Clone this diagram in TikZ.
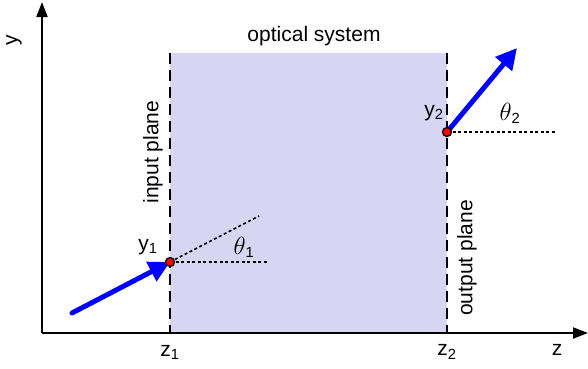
\documentclass[tikz,border=0pt]{standalone}
\usepackage{fontspec}
\setmainfont{Liberation Sans}
\usetikzlibrary{arrows.meta}
\definecolor{lav}{RGB}{216,213,242}
\definecolor{rayblue}{RGB}{0,0,255}
\newcommand{\bigtheta}{{\fontsize{27}{30}\selectfont$\theta$}}
\tikzset{
  axis/.style={line width=2pt,-{Triangle[length=15pt,width=11pt]}},
  planeline/.style={line width=2pt,dash pattern=on 11pt off 6pt},
  refline/.style={line width=1.6pt,dash pattern=on 3pt off 2.5pt},
  ray/.style={line width=5pt,rayblue,-{Triangle[length=21pt,width=21pt]}},
  pt/.style={circle,draw=black,fill=red,line width=1.3pt,inner sep=0pt,minimum size=9pt},
  lbl/.style={font=\fontsize{21}{25}\selectfont,inner sep=0pt}
}
\begin{document}
\begin{tikzpicture}[x=1pt,y=-1pt]
\useasboundingbox (0,0) rectangle (588,368);
\fill[lav] (170,53) rectangle (447,333);
\coordinate (O) at (42,333);
\coordinate (ytip) at (42,2);
\coordinate (ztip) at (588,333);
\draw[axis] (O) -- (ytip);
\draw[axis] (O) -- (ztip);
\coordinate (p1top) at (170,53);
\coordinate (p1bot) at (170,333);
\coordinate (p2top) at (447,53);
\coordinate (p2bot) at (447,333);
\draw[planeline] (p1top) -- (p1bot);
\draw[planeline] (p2top) -- (p2bot);
\coordinate (P1) at (170,262);
\coordinate (P2) at (447,132);
\coordinate (h1) at (268,262);
\coordinate (a1) at (259,216);
\coordinate (h2) at (555,132);
\draw[refline] (P1) -- (h1);
\draw[refline] (P1) -- (a1);
\draw[refline] (P2) -- (h2);
\coordinate (t1) at (72,313);
\coordinate (t2) at (517,48);
\draw[ray,line cap=round] (t1) -- (P1);
\draw[ray] (P2) -- (t2);
\node[pt] (d1) at (P1) {};
\node[pt] (d2) at (P2) {};
\node[lbl] (ly) at (14,40) [rotate=90] {y};
\node[lbl] (los) at (314,36) {optical system};
\node[lbl,rotate=90] (lin) at (153,152) {input plane};
\node[lbl,rotate=90] (lout) at (467,258) {output plane};
\node[lbl] (ly1) at (148,247) {y\textsubscript{1}};
\node[lbl] (lt1) at (244,247) {\bigtheta\textsubscript{1}};
\node[lbl] (ly2) at (434,113) {y\textsubscript{2}};
\node[lbl] (lt2) at (510,113) {\bigtheta\textsubscript{2}};
\node[lbl] (lz1) at (170,352) {z\textsubscript{1}};
\node[lbl] (lz2) at (447,352) {z\textsubscript{2}};
\node[lbl] (lz) at (557,350) {z};
\end{tikzpicture}
\end{document}
